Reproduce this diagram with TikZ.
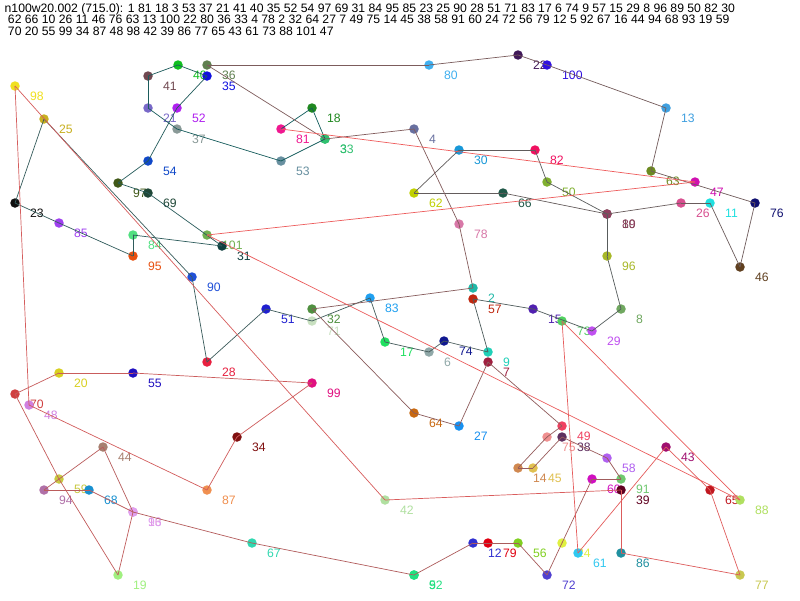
\documentclass[tikz,border=0pt]{standalone}
\usepackage{fontspec}
\setmainfont{Liberation Sans}
\pgfdeclarelayer{back}
\pgfdeclarelayer{tags}
\pgfsetlayers{back,tags,main}

\def\stops{2/473/288/20B8A8, 3/325/139/30C070, 4/414/129/6870A0, 5/414/575/20E080,
  6/429/352/90A8A8, 7/488/362/A02040, 8/621/309/70A860, 9/488/352/20D0B8,
  10/607/214/705050, 11/710/203/20E0E0, 12/473/543/3030D0, 13/666/108/40A0E0,
  14/518/468/D08850, 15/533/309/5020B0, 16/133/512/E090E0, 17/385/342/20E060,
  18/312/108/208820, 19/118/575/A0F080, 20/59/373/D8D020, 21/148/108/7868C8,
  22/518/55/401858, 23/15/203/101010, 24/562/543/E0F040, 25/44/119/C8B020,
  26/681/203/D85090, 27/459/426/1890F0, 28/207/362/E82040, 29/592/331/C050F0,
  30/459/150/1898D8, 31/222/246/104040, 32/312/309/509040, 33/325/139/30C070,
  34/237/437/801010, 35/207/76/1010E0, 36/207/65/608050, 37/177/129/8A9A98,
  38/562/437/603060, 39/621/490/600020, 40/178/65/10C020, 41/148/76/704850,
  42/385/500/B0E0A0, 43/666/447/A01070, 44/103/447/A88070, 45/533/468/E0C050,
  46/740/267/604020, 47/695/182/D010B0, 48/29/405/D080E0, 49/562/426/F04060,
  50/547/182/80B030, 51/266/309/2020D0, 52/177/108/B020F0, 53/281/161/6890A0,
  54/148/161/1048C8, 55/133/373/2010C0, 56/518/543/80D020, 57/473/299/C02810,
  58/607/458/B060F0, 59/59/479/C8C840, 60/592/479/D010C0, 61/578/553/30C8F0,
  62/414/193/C0D000, 63/651/171/6C8A20, 64/414/413/C86810, 65/710/490/C01820,
  66/503/193/205848, 67/252/543/30D8B0, 68/89/490/1890D0, 69/148/193/204838,
  70/15/394/D04040, 71/312/321/C8E0C0, 72/547/575/5040D0, 73/562/321/50D060,
  74/444/341/101890, 75/547/437/F09090, 76/755/203/101070, 77/740/575/C8C850,
  78/459/224/D878A8, 79/488/543/E00010, 80/429/65/40B0F0, 81/281/129/F01890,
  82/535/150/F01060, 83/370/298/20A0F0, 84/133/235/50E080, 85/59/223/A040F0,
  86/621/553/2090A0, 87/207/490/F09050, 88/740/500/B0E060, 89/607/214/904060,
  90/192/277/2050D8, 91/621/479/70C870, 92/414/575/20E080, 93/133/512/E0A0F0,
  94/44/490/B070A8, 95/133/256/E85010, 96/607/256/A8B828, 97/118/183/405818,
  98/15/86/F0E020, 99/312/383/E01080, 100/547/65/3010E0, 101/207/235/70B050}

\begin{document}
\begin{tikzpicture}
    [
        x=1pt, y=-1pt,
        stop/.style={circle, inner sep=0pt, minimum size=9.5pt},
        tag/.style={anchor=base west, inner sep=0pt, font=\fontsize{12.2}{12}\selectfont},
        route/.style={line width=0.7pt},
    ]
    \begin{pgfonlayer}{back}
        \path [fill=white] (0,0) rectangle (800,600);
    \end{pgfonlayer}
    \node (head1) at (4.5,12.3) [tag] {n100w20.002 (715.0): 1 81 18 3 53 37 21 41 40 35 52 54 97 69 31 84 95 85 23 25 90 28 51 71 83 17 6 74 9 57 15 29 8 96 89 50 82 30};
    \node (head2) at (7.8,23.8) [tag] {62 66 10 26 11 46 76 63 13 100 22 80 36 33 4 78 2 32 64 27 7 49 75 14 45 38 58 91 60 24 72 56 79 12 5 92 67 16 44 94 68 93 19 59};
    \node (head3) at (7.8,35.3) [tag] {70 20 55 99 34 87 48 98 42 39 86 77 65 43 61 73 88 101 47};
    % customers with their numbers
    \foreach \i/\x/\y/\c in \stops
    {
        \definecolor{col\i}{HTML}{\c}
        \node (c\i) at (\x,\y) [stop, fill=col\i] {};
        \begin{pgfonlayer}{tags}
            \node (t\i) at ([shift={(15,14)}]c\i.center) [tag, text=col\i] {\i};
        \end{pgfonlayer}
    }
    % the tour, teal at the start and red at the end
    \foreach \b [remember=\b as \a (initially 81), count=\k] in {18,3,53,37,21,41,40,35,52,54,97,69,31,84,95,85,23,25,90,28,51,71,83,17,6,74,9,57,15,29,8,96,89,50,82,30,62,66,10,26,11,46,76,63,13,100,22,80,36,33,4,78,2,32,64,27,7,49,75,14,45,38,58,91,60,24,72,56,79,12,5,92,67,16,44,94,68,93,19,59,70,20,55,99,34,87,48,98,42,39,86,77,65,43,61,73,88,101,47,81}
    {
        \pgfmathtruncatemacro{\r}{16+(\k-1)*2.2626}
        \definecolor{leg}{RGB}{\r,92,92}
        \draw [route, draw=leg] (c\a.center) -- (c\b.center);
    }
\end{tikzpicture}
\end{document}
